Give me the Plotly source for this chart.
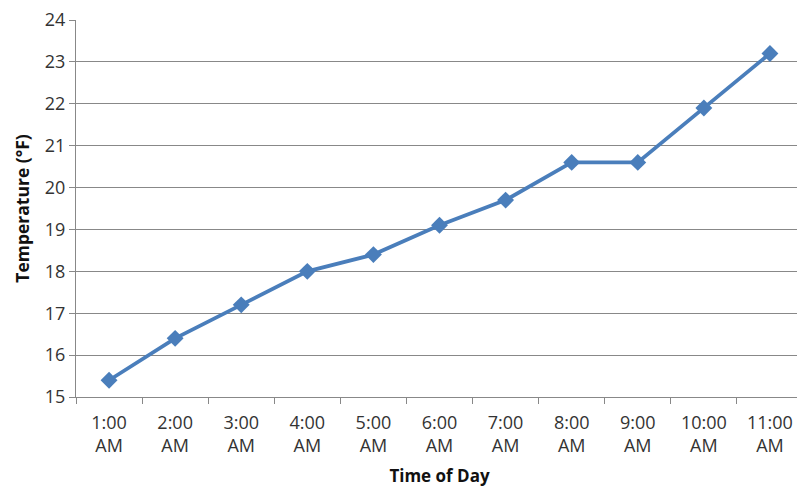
import plotly.graph_objects as go

times = ["1:00<br>AM", "2:00<br>AM", "3:00<br>AM", "4:00<br>AM", "5:00<br>AM", "6:00<br>AM",
         "7:00<br>AM", "8:00<br>AM", "9:00<br>AM", "10:00<br>AM", "11:00<br>AM"]
temps = [15.4, 16.4, 17.2, 18.0, 18.4, 19.1, 19.7, 20.6, 20.6, 21.9, 23.2]
y_ticks = [15, 16, 17, 18, 19, 20, 21, 22, 23, 24]

line_color = "#4a7ebb"
grid_color = "#888888"
font_family = "Open Sans, Liberation Sans, sans-serif"

fig = go.Figure(go.Scatter(
    x=times, y=temps, mode="lines+markers",
    line=dict(color=line_color, width=3.8),
    marker=dict(symbol="diamond", size=13, color=line_color),
    showlegend=False,
))

# page body has an 8px margin, so the figure is sized/offset to compensate
fig.update_layout(
    width=797, height=479,
    margin=dict(l=68, r=2, t=12, b=90),
    paper_bgcolor="white", plot_bgcolor="white",
    font=dict(family=font_family, size=18, color="#333333"),
)
fig.update_xaxes(
    type="category", range=[-0.5, len(times) - 0.5],
    tickson="boundaries", ticks="outside", ticklen=6,
    tickcolor=grid_color, showline=True, linecolor=grid_color, linewidth=1,
    showgrid=False, automargin=False, tickfont=dict(size=18, color="#333333"),
    ticklabelstandoff=9,
    title=dict(text="<b>Time of Day</b>", font=dict(size=17, color="#111111"), standoff=15),
)
fig.update_yaxes(
    range=[15, 24], tickvals=y_ticks, ticks="outside", ticklen=6,
    tickcolor=grid_color, showline=True, linecolor=grid_color, linewidth=1,
    showgrid=True, gridcolor=grid_color, gridwidth=1, zeroline=False,
    automargin=False, tickfont=dict(size=18, color="#333333"),
    ticklabeloverflow="allow",
    title=dict(text="<b>Temperature (°F)</b>", font=dict(size=17.5, color="#111111"), standoff=10),
)

fig.write_html("out.html")
